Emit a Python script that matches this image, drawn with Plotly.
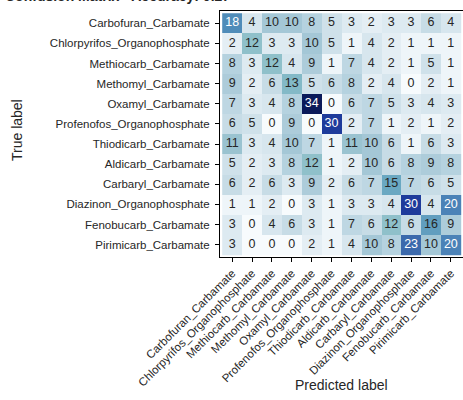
import plotly.graph_objects as go

labels = [
    "Carbofuran_Carbamate",
    "Chlorpyrifos_Organophosphate",
    "Methiocarb_Carbamate",
    "Methomyl_Carbamate",
    "Oxamyl_Carbamate",
    "Profenofos_Organophosphate",
    "Thiodicarb_Carbamate",
    "Aldicarb_Carbamate",
    "Carbaryl_Carbamate",
    "Diazinon_Organophosphate",
    "Fenobucarb_Carbamate",
    "Pirimicarb_Carbamate",
]

counts = [
    [18, 4, 10, 10, 8, 5, 3, 2, 3, 3, 6, 4],
    [2, 12, 3, 3, 10, 5, 1, 4, 2, 1, 1, 1],
    [8, 3, 12, 4, 9, 1, 7, 4, 2, 1, 5, 1],
    [9, 2, 6, 13, 5, 6, 8, 2, 4, 0, 2, 1],
    [7, 3, 4, 8, 34, 0, 6, 7, 5, 3, 4, 3],
    [6, 5, 0, 9, 0, 30, 2, 7, 1, 2, 1, 2],
    [11, 3, 4, 10, 7, 1, 11, 10, 6, 1, 6, 3],
    [5, 2, 3, 8, 12, 1, 2, 10, 6, 8, 9, 8],
    [6, 2, 6, 3, 9, 2, 6, 7, 15, 7, 6, 5],
    [1, 1, 2, 0, 3, 1, 3, 3, 4, 30, 4, 20],
    [3, 0, 4, 6, 3, 1, 7, 6, 12, 6, 16, 9],
    [3, 0, 0, 0, 2, 1, 4, 10, 8, 23, 10, 20],
]

total = sum(sum(r) for r in counts)
correct = sum(counts[i][i] for i in range(len(labels)))
accuracy = correct / total

zmax = max(max(r) for r in counts)

colorscale = [
    [0.00, "#f7fbfd"],
    [0.06, "#e4eef4"],
    [0.12, "#d6e6ee"],
    [0.18, "#c6dbe6"],
    [0.24, "#b4d1de"],
    [0.30, "#a2c6d5"],
    [0.36, "#8dbfc9"],
    [0.44, "#6aa8c2"],
    [0.53, "#4f8cb9"],
    [0.60, "#4a80b6"],
    [0.68, "#3a68ac"],
    [0.88, "#1e3c9c"],
    [1.00, "#0a1a5a"],
]

FONT = "Liberation Sans, Arial, sans-serif"

fig = go.Figure()
fig.add_trace(go.Heatmap(
    z=counts, x=labels, y=labels,
    colorscale=colorscale, zmin=0, zmax=zmax,
    showscale=False, hoverinfo="skip", xgap=0, ygap=0,
))

# cell annotations: white text on the dark half of the scale
tx, ty, tt, tc = [], [], [], []
for i, row in enumerate(counts):
    for j, v in enumerate(row):
        tx.append(labels[j])
        ty.append(labels[i])
        tt.append(str(v))
        tc.append("white" if v > zmax / 2 else "#262626")
fig.add_trace(go.Scatter(
    x=tx, y=ty, text=tt, mode="text",
    textfont=dict(color=tc, size=12.5, family=FONT),
    hoverinfo="skip", showlegend=False,
))

tickfont = dict(size=11.5, color="#262626", family=FONT)
fig.update_layout(
    width=463, height=400,
    margin=dict(l=220, r=0, t=11, b=143),
    paper_bgcolor="white", plot_bgcolor="white",
    font=dict(family=FONT, color="#262626"),
    title=dict(
        text=f"<b>Confusion Matrix - Accuracy: {accuracy:.2f}</b>",
        font=dict(size=14, color="#262626"),
        xref="container", x=5 / 463, xanchor="left",
        yref="container", y=1 - 1.2 / 400, yanchor="bottom",
    ),
    xaxis=dict(
        type="category", tickangle=-45, ticks="outside", ticklen=4, tickwidth=1,
        tickcolor="black", showline=True, linecolor="black", linewidth=1,
        mirror=True, showgrid=False, zeroline=False, tickfont=tickfont,
    ),
    yaxis=dict(
        type="category", autorange="reversed", ticks="outside", ticklen=4,
        tickwidth=1, tickcolor="black", showline=True, linecolor="black",
        linewidth=1, showgrid=False, zeroline=False, tickfont=tickfont,
        ticklabelstandoff=3,
    ),
    annotations=[
        dict(text="True label", xref="paper", yref="paper", x=-220 / 243 + 17 / 243,
             y=(257 - 130) / 246, xanchor="center", yanchor="middle", textangle=-90,
             showarrow=False, font=dict(size=14, color="#262626")),
        dict(text="Predicted label", xref="paper", yref="paper", x=0.5,
             y=-(385 - 257) / 246, xanchor="center", yanchor="middle",
             showarrow=False, font=dict(size=14, color="#262626")),
    ],
)

fig.write_html("out.html")
